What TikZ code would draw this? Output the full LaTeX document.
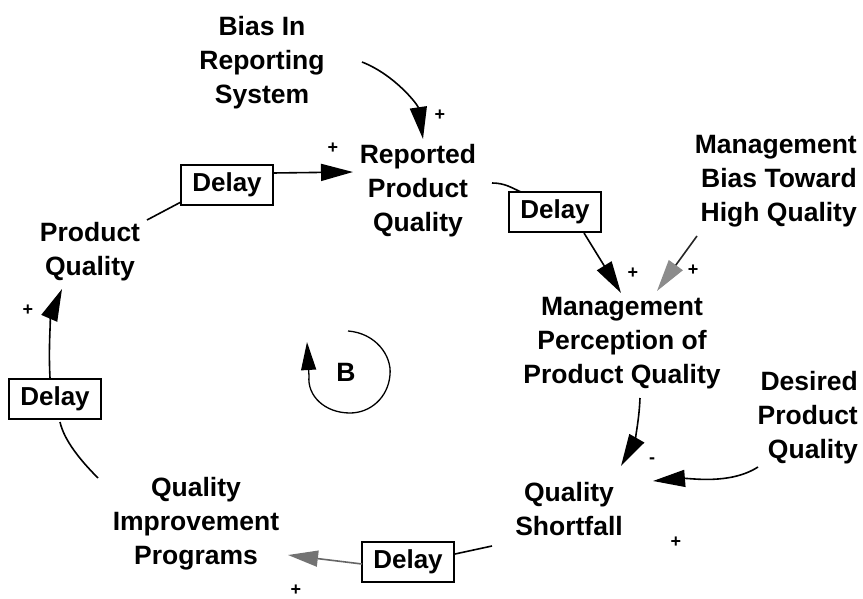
\documentclass[tikz,border=0pt]{standalone}
\usepackage{fontspec}
\setmainfont{Liberation Sans}
\usetikzlibrary{arrows.meta}
\begin{document}
\begin{tikzpicture}[x=1pt,y=-1pt,
  lbl/.style={font=\bfseries\fontsize{26.5}{34}\selectfont, align=center, inner sep=0pt},
  delaybox/.style={draw, line width=1.5pt, font=\bfseries\fontsize{26}{30}\selectfont, minimum width=92pt, minimum height=40pt, inner sep=0pt},
  sgn/.style={font=\bfseries\fontsize{18}{18}\selectfont, inner sep=0pt},
  conn/.style={line width=1.6pt},
  arr/.style={conn, -{Triangle[length=32pt,width=17pt]}},
]
\useasboundingbox (0,0) rectangle (863,599);
\fill[white] (0,0) rectangle (863,599);

% variables
\node[lbl] (bias) at (262,63) {Bias In\\Reporting\\System};
\node[lbl] (rpq) at (418,191) {Reported\\Product\\Quality};
\node[lbl] (pq) at (90,252) {Product\\Quality};
\node[lbl, align=right, anchor=east] (mb) at (857,181) {Management\\Bias Toward\\High Quality};
\node[lbl] (mppq) at (622,343) {Management\\Perception of\\Product Quality};
\node[lbl, align=right, anchor=east] (dpq) at (858,418) {Desired\\Product\\Quality};
\node[lbl] (qs) at (569,509) {Quality\\Shortfall};
\node[lbl] (qip) at (196,524) {Quality\\Improvement\\Programs};

% delays
\node[delaybox] (d1) at (227,185) {Delay};
\node[delaybox] (d2) at (555,212) {Delay};
\node[delaybox] (d3) at (55,399) {Delay};
\node[delaybox] (d4) at (408,562) {Delay};

% loop marker
\node[lbl] (b) at (346,372) {B};

% connection points
\coordinate (biasout) at (362,62);
\coordinate (rpqin1) at (423,139);
\coordinate (pqout) at (147,220);
\coordinate (d1in) at (181,202);
\coordinate (d1out) at (273,173);
\coordinate (rpqin2) at (353,172);
\coordinate (rpqout) at (492,183);
\coordinate (d2in) at (521,192);
\coordinate (d2out) at (584,233);
\coordinate (mppqin1) at (621,293);
\coordinate (mbout) at (697,236);
\coordinate (mppqin2) at (657,291);
\coordinate (mppqout) at (640,398);
\coordinate (qsin1) at (621,466);
\coordinate (dpqout) at (758,467);
\coordinate (qsin2) at (653,481);
\coordinate (qsout) at (492,546);
\coordinate (d4in) at (455,554);
\coordinate (d4out) at (362,564);
\coordinate (qipin) at (288,555);
\coordinate (qipout) at (98,478);
\coordinate (d3in) at (60,422);
\coordinate (d3out) at (50,378);
\coordinate (pqin) at (62,289);

% connectors
\draw[arr] (biasout) .. controls (395,75) and (418,105) .. (rpqin1);
\draw[conn] (pqout) -- (d1in);
\draw[arr] (d1out) -- (rpqin2);
\draw[conn] (rpqout) .. controls (505,183) and (512,188) .. (d2in);
\draw[arr] (d2out) -- (mppqin1);
\draw[conn, black!85, -{Triangle[length=32pt,width=17pt,color=black!45]}] (mbout) -- (mppqin2);
\draw[arr] (mppqout) .. controls (639,425) and (633,445) .. (qsin1);
\draw[arr] (dpqout) .. controls (730,485) and (690,478) .. (qsin2);
\draw[conn] (qsout) -- (d4in);
\draw[conn, black!60, -{Triangle[length=30pt,width=16pt,color=black!55]}] (d4out) -- (qipin);
\draw[conn] (qipout) .. controls (80,460) and (64,440) .. (d3in);
\draw[arr] (d3out) .. controls (48,340) and (52,312) .. (pqin);

% B loop arrow
\draw[conn, line width=1.3pt, -{Triangle[length=28pt,width=15pt]}] (348,331) .. controls (375,333) and (392,355) .. (390,375)
  .. controls (388,398) and (370,413) .. (350,413)
  .. controls (325,413) and (307,396) .. (309,376) -- (307,342);

% polarity signs
\node[sgn] (s1) at (440,115) {+};
\node[sgn] (s2) at (333,148) {+};
\node[sgn] (s3) at (633,273) {+};
\node[sgn] (s4) at (693,270) {+};
\node[sgn] (s5) at (652,461) {-};
\node[sgn] (s6) at (676,542) {+};
\node[sgn] (s7) at (296,590) {+};
\node[sgn] (s8) at (28,310) {+};
\end{tikzpicture}
\end{document}
